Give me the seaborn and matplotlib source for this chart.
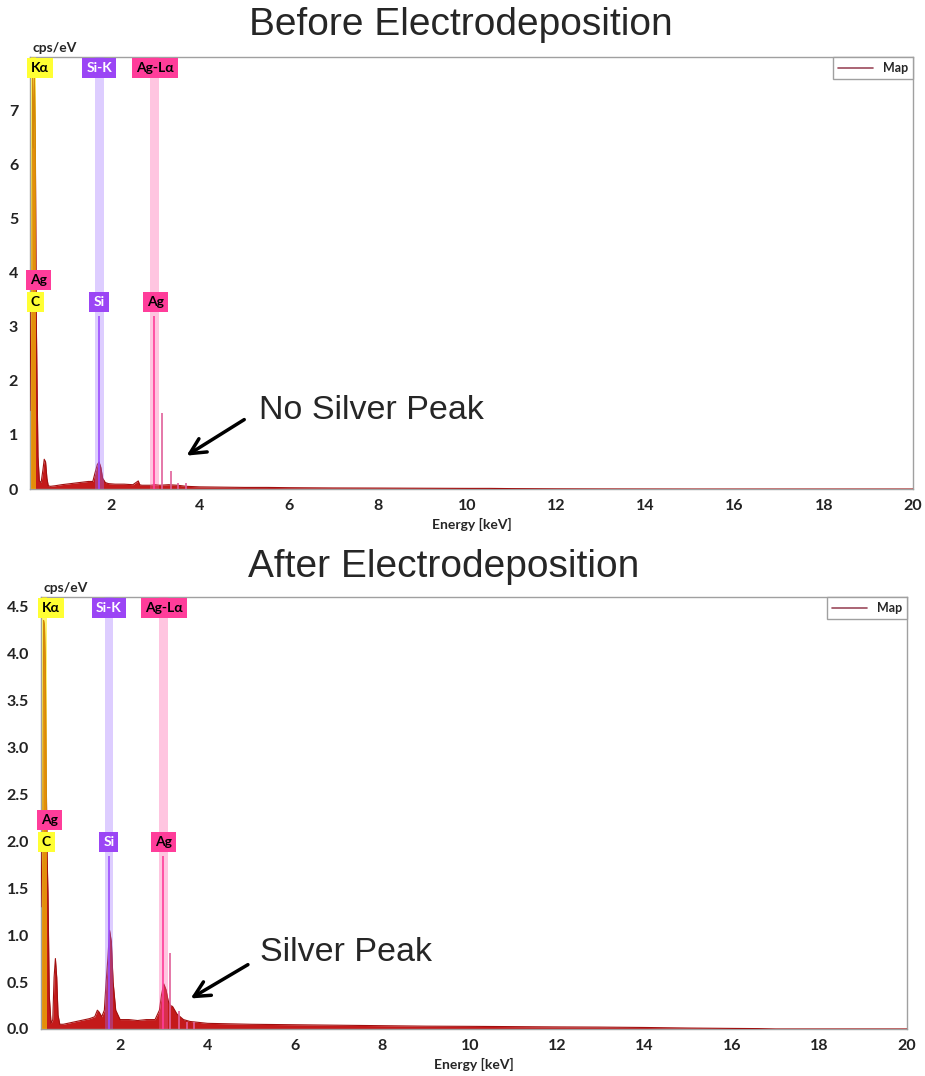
import matplotlib
matplotlib.use('Agg')
import matplotlib.pyplot as plt
from matplotlib.lines import Line2D
from matplotlib.ticker import MultipleLocator
import seaborn as sns

sns.set_style('white')
plt.rcParams['font.family'] = ['Lato', 'DejaVu Sans']

# EDS spectra (energy in keV, counts in cps/eV)
energy_before = [0.19, 0.21, 0.23, 0.25, 0.27, 0.29, 0.31, 0.33, 0.35, 0.37, 0.40, 0.44,
                 0.48, 0.51, 0.54, 0.57, 0.60, 0.65, 0.75, 0.9, 1.1, 1.3, 1.5, 1.6, 1.65,
                 1.7, 1.74, 1.78, 1.82, 1.88, 1.95, 2.1, 2.3, 2.5, 2.62, 2.65, 2.7, 2.9,
                 3.0, 3.1, 3.3, 3.5, 3.7, 4.0, 4.5, 5.0, 5.5, 6.0, 7.0, 8.0, 9.0, 10.0,
                 10.5, 11.0, 11.5, 12.0, 13.0, 14.0, 15.0, 20.0]
counts_before = [1.45, 3.3, 3.3, 7.7, 6.3, 7.6, 6.5, 3.3, 1.85, 0.6, 0.15, 0.12,
                 0.35, 0.55, 0.5, 0.2, 0.06, 0.05, 0.06, 0.08, 0.1, 0.12, 0.14, 0.14, 0.3,
                 0.45, 0.5, 0.4, 0.2, 0.12, 0.1, 0.09, 0.09, 0.08, 0.15, 0.08, 0.07, 0.07,
                 0.08, 0.07, 0.08, 0.07, 0.05, 0.04, 0.035, 0.03, 0.03, 0.025, 0.02, 0.018, 0.015, 0.012,
                 0.012, 0.008, 0.006, 0.004, 0.002, 0.001, 0.0, 0.0]

energy_after = [0.19, 0.21, 0.23, 0.25, 0.27, 0.29, 0.31, 0.33, 0.35, 0.38, 0.42, 0.46,
                0.49, 0.52, 0.55, 0.58, 0.62, 0.7, 0.9, 1.1, 1.3, 1.42, 1.48, 1.52, 1.58,
                1.64, 1.68, 1.72, 1.76, 1.8, 1.84, 1.9, 2.0, 2.2, 2.4, 2.6, 2.8, 2.9,
                2.95, 3.0, 3.05, 3.1, 3.15, 3.2, 3.3, 3.45, 3.6, 3.8, 4.0, 4.5, 5.0, 6.0,
                7.0, 8.0, 9.0, 10.0, 11.0, 12.0, 13.0, 14.0, 15.0, 16.0, 16.6, 17.0, 20.0]
counts_after = [1.3, 1.9, 1.9, 4.35, 4.3, 3.9, 2.7, 1.85, 1.45, 0.35, 0.06, 0.1,
                0.55, 0.75, 0.55, 0.15, 0.05, 0.05, 0.07, 0.09, 0.11, 0.13, 0.2, 0.18, 0.13,
                0.2, 0.5, 0.75, 1.05, 0.93, 0.5, 0.2, 0.1, 0.1, 0.09, 0.1, 0.1, 0.2,
                0.37, 0.48, 0.42, 0.3, 0.25, 0.24, 0.16, 0.1, 0.08, 0.07, 0.06, 0.055, 0.05, 0.045,
                0.04, 0.035, 0.03, 0.028, 0.025, 0.022, 0.02, 0.016, 0.01, 0.006, 0.004, 0.0, 0.0]

# element marker lines: energy, height as fraction of the axis, colour
marker_energy = [1.74, 2.98, 3.15, 3.35, 3.52, 3.7]
marker_height = [0.40, 0.40, 0.175, 0.041, 0.015, 0.015]
marker_color = ['#9b4dff', '#ff3d9a', '#e0609a', '#e0609a', '#e0609a', '#e0609a']

RED = '#c41a1a'


def panel(ax, energy, counts, ymax, yticks, yminor, ylabels, note, note_xy, tail, head):
    ax.fill_between(energy, counts, color=RED, lw=0, zorder=2)
    sns.lineplot(x=energy, y=counts, ax=ax, color='#a01010', lw=0.8, legend=False, zorder=3)

    # element bands
    ax.axvspan(0.22, 0.33, color='#ffee00', alpha=0.55, lw=0, zorder=4)
    ax.axvspan(1.66, 1.84, color='#a070ff', alpha=0.35, lw=0, zorder=4)
    ax.axvspan(2.88, 3.09, color='#ff5aa8', alpha=0.35, lw=0, zorder=4)

    tr = ax.get_xaxis_transform()
    ax.vlines(marker_energy, 0, marker_height, colors=marker_color, lw=1.2,
              transform=tr, zorder=5)

    def tag(x, y, s, fc, tc='black', ha='center'):
        ax.text(x, y, s, transform=tr, ha=ha, va='center', fontsize=10, fontweight='bold',
                color=tc, zorder=6,
                bbox=dict(boxstyle='square,pad=0.3', fc=fc, ec='none'))

    tag(0.21, 0.975, 'Kα', '#ffff33', ha='left')
    tag(1.74, 0.975, 'Si-K', '#9b45f5', tc='white')
    tag(3.0, 0.975, 'Ag-Lα', '#ff3d9a')
    tag(0.19, 0.484, 'Ag', '#ff3d9a', ha='left')
    tag(0.21, 0.433, 'C', '#ffff33', ha='left')
    tag(1.74, 0.433, 'Si', '#9b45f5', tc='white')
    tag(3.0, 0.433, 'Ag', '#ff3d9a')

    ax.set_xlim(0.19, 20)
    ax.set_xticks([2, 4, 6, 8, 10, 12, 14, 16, 18, 20])
    ax.xaxis.set_minor_locator(MultipleLocator(0.5))
    ax.set_yticks(yticks)
    ax.set_yticklabels(ylabels)
    ax.yaxis.set_minor_locator(MultipleLocator(yminor))
    ax.set_ylim(0, ymax)
    ax.tick_params(axis='x', which='both', direction='in', color='#909090', pad=7)
    ax.tick_params(axis='y', which='both', direction='out', color='#909090')
    ax.tick_params(which='major', length=5, labelsize=11.5)
    ax.tick_params(which='minor', length=3)
    for lab in ax.get_xticklabels() + ax.get_yticklabels():
        lab.set_fontweight('bold')
        lab.set_color('#222222')
    for sp in ax.spines.values():
        sp.set_color('#a0a0a0')
        sp.set_linewidth(1)
    ax.set_xlabel('Energy [keV]', fontsize=10, fontweight='bold', labelpad=4)
    ax.set_ylabel('')
    ax.text(0.003, 1.006, 'cps/eV', transform=ax.transAxes, fontsize=10, fontweight='bold',
            va='bottom', ha='left')

    ax.legend(handles=[Line2D([], [], color='#9c4a5c', lw=1.2)], labels=['Map'],
              loc='upper right', borderaxespad=0, fancybox=False, edgecolor='#a0a0a0',
              prop={'weight': 'bold', 'size': 9}, handlelength=2.8, framealpha=1)

    ax.text(note_xy[0], note_xy[1], note, fontsize=24.5, family=['Liberation Sans'],
            va='center', ha='left')
    ax.annotate('', xy=head, xytext=tail,
                arrowprops=dict(arrowstyle='->', lw=2.5, color='black', mutation_scale=28))


fig = plt.figure(figsize=(9.25, 10.76), dpi=100)
ax1 = fig.add_axes([0.0324, 0.5455, 0.9546, 0.4015])
ax2 = fig.add_axes([0.0443, 0.0437, 0.936, 0.4015])

panel(ax1, energy_before, counts_before, 7.98, list(range(8)), 0.2,
      [str(i) for i in range(8)],
      'No Silver Peak', (5.32, 1.46), (5.05, 1.31), (3.65, 0.59))
panel(ax2, energy_after, counts_after, 4.6, [0.5 * i for i in range(10)], 0.1,
      ['%.1f' % (0.5 * i) for i in range(10)],
      'Silver Peak', (5.2, 0.81), (4.98, 0.70), (3.56, 0.31))

fig.text(461 / 925, 1 - 25 / 1076, 'Before Electrodeposition', fontsize=28,
         family=['Liberation Sans'], ha='center', va='center')
fig.text(444 / 925, 1 - 567 / 1076, 'After Electrodeposition', fontsize=28,
         family=['Liberation Sans'], ha='center', va='center')

fig.savefig('out.png', dpi=100)
